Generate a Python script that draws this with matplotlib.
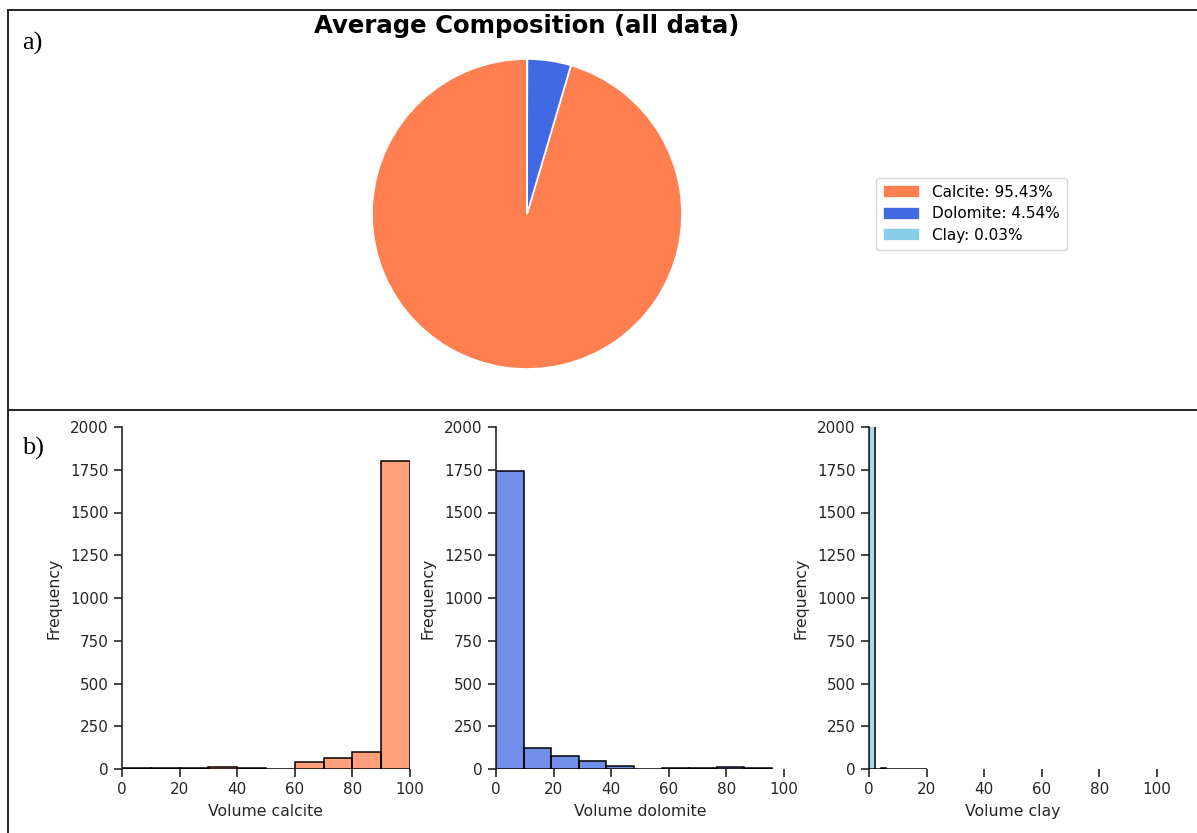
import matplotlib
matplotlib.use("Agg")
import matplotlib.pyplot as plt
from matplotlib.lines import Line2D
import numpy as np

# Average composition (percent)
minerals = ["Calcite", "Dolomite", "Clay"]
avg_percent = [95.43, 4.54, 0.03]
pie_colors = ["#FF7F50", "#4169E1", "#87CEEB"]

# Histogram bin edges and counts per mineral
calcite_edges = [0, 10, 20, 30, 40, 50, 60, 70, 80, 90, 100]
calcite_counts = [8, 4, 8, 10, 3, 0, 40, 62, 100, 1800]

dolomite_edges = [0, 9.58, 19.16, 28.74, 38.32, 47.9, 57.48, 67.06, 76.64, 86.22, 95.8]
dolomite_counts = [1745, 120, 78, 45, 20, 0, 6, 8, 12, 6]

clay_edges = [0, 2, 4, 6, 8, 10, 12, 14, 16, 18, 20]
clay_counts = [2025, 0, 8, 1, 0, 0, 0, 0, 0, 1]

W, H = 1197, 833
fig = plt.figure(figsize=(W / 100, H / 100), dpi=100)


def fx(px):
    return px / W


def fy(py):
    return 1 - py / H


# ---- panel frames ----
frame_kw = dict(color="#222222", lw=1.4, transform=fig.transFigure)
fig.add_artist(Line2D([fx(8), fx(8)], [fy(10), 0], **frame_kw))
fig.add_artist(Line2D([fx(8), 1], [fy(10), fy(10)], **frame_kw))
fig.add_artist(Line2D([fx(8), 1], [fy(410), fy(410)], **frame_kw))

fig.text(fx(22), fy(43), "a)", family="Liberation Serif", fontsize=19,
         va="center", ha="left")
fig.text(fx(22), fy(448), "b)", family="Liberation Serif", fontsize=19,
         va="center", ha="left")

# ---- a) pie chart ----
r = 155
cx, cy = 527, 214
ax_pie = fig.add_axes([fx(cx - r), fy(cy + r), 2 * r / W, 2 * r / H])
wedges, _ = ax_pie.pie(avg_percent, colors=pie_colors, startangle=90,
                       counterclock=True,
                       wedgeprops=dict(edgecolor="white", linewidth=1.2))
ax_pie.set_aspect("auto")
ax_pie.set_xlim(-1, 1)
ax_pie.set_ylim(-1, 1)
fig.text(fx(527), fy(26), "Average Composition (all data)", fontsize=17.6,
         fontweight="bold", ha="center", va="center")

labels = [f"{m}: {p:.2f}%" for m, p in zip(minerals, avg_percent)]
fig.legend(wedges, labels, loc="center", bbox_to_anchor=(fx(971.5), fy(214)),
           fontsize=11, frameon=True, edgecolor="#cccccc", fancybox=True,
           handlelength=2.4, handleheight=0.9, labelspacing=0.42,
           borderpad=0.45, handletextpad=0.8)

# ---- b) histograms ----
hist_specs = [
    (122, calcite_edges, calcite_counts, "#FF7F50", "Volume calcite"),
    (496, dolomite_edges, dolomite_counts, "#4169E1", "Volume dolomite"),
    (869, clay_edges, clay_counts, "#87CEEB", "Volume clay"),
]
text_color = "#262626"
for left, edges, counts, color, xlabel in hist_specs:
    ax = fig.add_axes([fx(left), fy(769), 288 / W, 342 / H])
    edges = np.asarray(edges, dtype=float)
    ax.bar(edges[:-1], counts, width=np.diff(edges), align="edge",
           color=color, alpha=0.75, edgecolor="none")
    ax.bar(edges[:-1], counts, width=np.diff(edges), align="edge",
           facecolor="none", edgecolor="black", linewidth=1.1)
    ax.set_xlim(0, 100)
    ax.set_ylim(0, 2000)
    ax.set_xticks([0, 20, 40, 60, 80, 100])
    ax.set_yticks([0, 250, 500, 750, 1000, 1250, 1500, 1750, 2000])
    for s in ["top", "right", "bottom"]:
        ax.spines[s].set_visible(False)
    ax.spines["left"].set_color(text_color)
    ax.spines["left"].set_linewidth(1.2)
    ax.tick_params(direction="out", length=6, width=1.2, colors=text_color,
                   labelsize=10.9, labelcolor=text_color)
    ax.set_xlabel(xlabel, fontsize=11.3, color=text_color, labelpad=5)
    ax.set_ylabel("Frequency", fontsize=11.3, color=text_color, labelpad=6)
    ax.patch.set_alpha(0)

fig.savefig("out.png", dpi=100)
